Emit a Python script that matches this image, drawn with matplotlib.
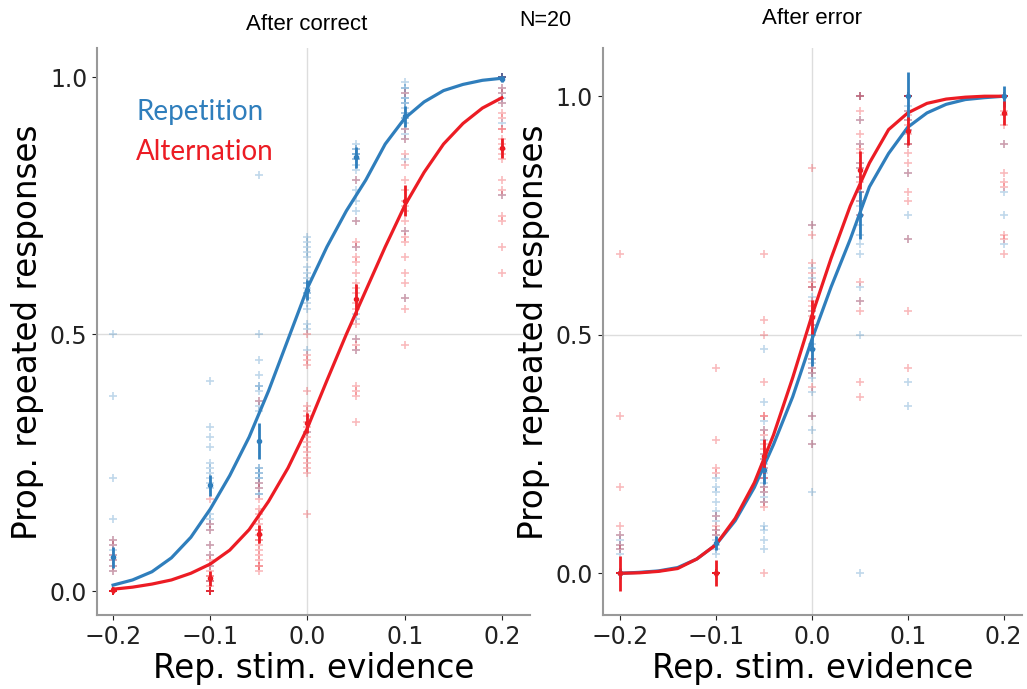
"""Psychometric curves after correct / after error trials, repetition vs alternation blocks."""

import matplotlib
matplotlib.use("Agg")
import matplotlib.pyplot as plt
import numpy as np

BLUE = "#2f7ebc"
RED = "#ec1c24"

evidence = [-0.2, -0.1, -0.05, 0.0, 0.05, 0.1, 0.2]
fit_x = [-0.2, -0.18, -0.16, -0.14, -0.12, -0.1, -0.08, -0.06, -0.04, -0.02, 0.0,
         0.02, 0.04, 0.06, 0.08, 0.1, 0.12, 0.14, 0.16, 0.18, 0.2]

# ---- after correct ----
ac_rep_fit = [0.012, 0.022, 0.038, 0.065, 0.105, 0.16, 0.225, 0.30, 0.39, 0.49, 0.59,
              0.67, 0.74, 0.80, 0.87, 0.92, 0.952, 0.974, 0.986, 0.994, 0.998]
ac_alt_fit = [0.004, 0.008, 0.014, 0.022, 0.035, 0.053, 0.08, 0.12, 0.175, 0.24, 0.318,
              0.41, 0.50, 0.585, 0.67, 0.75, 0.815, 0.87, 0.91, 0.94, 0.96]
ac_rep_mean = [0.066, 0.206, 0.292, 0.586, 0.844, 0.924, 0.996]
ac_rep_err = [0.02, 0.02, 0.035, 0.02, 0.02, 0.02, 0.006]
ac_alt_mean = [0.003, 0.025, 0.111, 0.327, 0.568, 0.76, 0.862]
ac_alt_err = [0.006, 0.015, 0.018, 0.02, 0.03, 0.03, 0.02]
ac_rep_subj = [
    [0.5, 0.38, 0.22, 0.14, 0.1, 0.09, 0.08, 0.07, 0.06, 0.05, 0.04, 0, 0, 0, 0, 0, 0, 0, 0, 0],
    [0.41, 0.32, 0.3, 0.28, 0.25, 0.24, 0.23, 0.22, 0.21, 0.2, 0.15, 0.14, 0.13, 0.12, 0.09, 0.07, 0.05, 0.02, 0, 0],
    [0.81, 0.5, 0.45, 0.42, 0.4, 0.4, 0.39, 0.37, 0.36, 0.35, 0.24, 0.24, 0.23, 0.23, 0.22, 0.22, 0.21, 0.2, 0.19, 0.19],
    [0.69, 0.68, 0.67, 0.66, 0.65, 0.63, 0.62, 0.61, 0.6, 0.6, 0.59, 0.58, 0.58, 0.57, 0.56, 0.55, 0.52, 0.51, 0.47, 0.31],
    [0.87, 0.86, 0.86, 0.85, 0.85, 0.85, 0.84, 0.84, 0.83, 0.82, 0.8, 0.78, 0.76, 0.74, 0.72, 0.67, 0.54, 0.53, 0.49, 0.47],
    [0.99, 0.98, 0.98, 0.97, 0.96, 0.96, 0.95, 0.95, 0.94, 0.93, 0.93, 0.92, 0.92, 0.91, 0.9, 0.89, 0.88, 0.84, 0.7, 0.57],
    [1, 1, 1, 1, 1, 1, 1, 1, 1, 1, 1, 1, 1, 1, 0.98, 0.97, 0.96, 0.95, 0.91, 0.77],
]
ac_alt_subj = [
    [0.1, 0.09, 0.07, 0.06, 0.05, 0.04, 0, 0, 0, 0, 0, 0, 0, 0, 0, 0, 0, 0, 0, 0],
    [0.18, 0.13, 0.12, 0.09, 0.07, 0.06, 0.05, 0.04, 0.03, 0.03, 0.02, 0.02, 0.01, 0, 0, 0, 0, 0, 0, 0],
    [0.37, 0.21, 0.2, 0.18, 0.16, 0.15, 0.14, 0.13, 0.12, 0.12, 0.11, 0.1, 0.1, 0.09, 0.08, 0.07, 0.06, 0.05, 0.05, 0.04],
    [0.5, 0.46, 0.45, 0.44, 0.39, 0.36, 0.35, 0.34, 0.33, 0.32, 0.31, 0.3, 0.29, 0.28, 0.27, 0.26, 0.25, 0.24, 0.23, 0.15],
    [0.8, 0.72, 0.68, 0.67, 0.65, 0.64, 0.62, 0.6, 0.59, 0.58, 0.56, 0.55, 0.52, 0.49, 0.48, 0.47, 0.4, 0.39, 0.38, 0.33],
    [0.97, 0.9, 0.88, 0.85, 0.83, 0.8, 0.78, 0.76, 0.75, 0.74, 0.72, 0.7, 0.69, 0.68, 0.65, 0.62, 0.6, 0.57, 0.55, 0.48],
    [1, 0.98, 0.97, 0.95, 0.93, 0.92, 0.9, 0.9, 0.88, 0.87, 0.86, 0.85, 0.84, 0.8, 0.78, 0.77, 0.73, 0.72, 0.67, 0.62],
]

# ---- after error ----
ae_rep_fit = [0.0, 0.002, 0.005, 0.012, 0.03, 0.06, 0.11, 0.18, 0.27, 0.37, 0.49,
              0.60, 0.70, 0.81, 0.88, 0.935, 0.965, 0.983, 0.993, 0.997, 1.0]
ae_alt_fit = [0.0, 0.001, 0.004, 0.01, 0.03, 0.06, 0.115, 0.19, 0.29, 0.41, 0.54,
              0.66, 0.77, 0.86, 0.93, 0.965, 0.985, 0.994, 0.998, 1.0, 1.0]
ae_rep_mean = [0.0, 0.063, 0.217, 0.47, 0.751, 1.0, 1.0]
ae_rep_err = [0.012, 0.015, 0.03, 0.035, 0.05, 0.05, 0.022]
ae_alt_mean = [0.0, 0.0, 0.246, 0.537, 0.846, 0.927, 0.965]
ae_alt_err = [0.037, 0.027, 0.035, 0.035, 0.04, 0.03, 0.025]
ae_rep_subj = [
    [0.08, 0.07, 0.06, 0.05, 0.04, 0, 0, 0, 0, 0, 0, 0, 0, 0, 0, 0, 0, 0, 0, 0],
    [0.2, 0.18, 0.17, 0.15, 0.13, 0.12, 0.11, 0.09, 0.08, 0.07, 0.06, 0.05, 0.04, 0, 0, 0, 0, 0, 0, 0],
    [0.47, 0.36, 0.32, 0.3, 0.28, 0.25, 0.24, 0.23, 0.22, 0.21, 0.2, 0.19, 0.18, 0.17, 0.16, 0.15, 0.1, 0.09, 0.07, 0.05],
    [0.73, 0.64, 0.62, 0.6, 0.58, 0.55, 0.52, 0.5, 0.48, 0.47, 0.45, 0.44, 0.43, 0.42, 0.41, 0.38, 0.33, 0.3, 0.27, 0.17],
    [1, 1, 0.95, 0.9, 0.86, 0.85, 0.83, 0.8, 0.8, 0.78, 0.77, 0.75, 0.73, 0.71, 0.69, 0.67, 0.6, 0.57, 0.5, 0],
    [1, 1, 1, 1, 1, 1, 1, 1, 1, 1, 1, 1, 0.98, 0.97, 0.95, 0.93, 0.9, 0.84, 0.75, 0.7, 0.4, 0.35],
    [1, 1, 1, 1, 1, 1, 1, 1, 1, 1, 1, 1, 1, 1, 1, 1, 0.9, 0.8, 0.75, 0.69],
]
ae_alt_subj = [
    [0.67, 0.33, 0.18, 0.1, 0.08, 0.06, 0.05, 0, 0, 0, 0, 0, 0, 0, 0, 0, 0, 0, 0, 0],
    [0.43, 0.28, 0.22, 0.21, 0.12, 0.1, 0.09, 0.08, 0, 0, 0, 0, 0, 0, 0, 0, 0, 0, 0, 0],
    [0.67, 0.53, 0.5, 0.4, 0.33, 0.33, 0.3, 0.29, 0.27, 0.26, 0.25, 0.24, 0.22, 0.2, 0.2, 0.18, 0.17, 0.15, 0.14, 0],
    [0.85, 0.73, 0.71, 0.65, 0.63, 0.61, 0.6, 0.6, 0.57, 0.56, 0.55, 0.54, 0.52, 0.5, 0.45, 0.43, 0.42, 0.39, 0.33, 0.27],
    [1, 1, 0.97, 0.95, 0.92, 0.9, 0.89, 0.88, 0.86, 0.85, 0.83, 0.82, 0.8, 0.78, 0.75, 0.61, 0.57, 0.55, 0.4, 0.37],
    [1, 1, 1, 1, 0.97, 0.96, 0.95, 0.94, 0.93, 0.92, 0.9, 0.9, 0.88, 0.86, 0.84, 0.8, 0.78, 0.7, 0.55, 0.43],
    [1, 1, 1, 1, 1, 1, 1, 1, 1, 1, 0.97, 0.96, 0.94, 0.9, 0.84, 0.82, 0.81, 0.71, 0.7, 0.67],
]


def draw_panel(ax, rep_fit, alt_fit, rep_mean, rep_err, alt_mean, alt_err, rep_subj, alt_subj):
    ax.axvline(0, color="#dddddd", lw=1, zorder=0)
    ax.axhline(0.5, color="#dddddd", lw=1, zorder=0)
    for subj, col in ((rep_subj, BLUE), (alt_subj, RED)):
        for x, vals in zip(evidence, subj):
            ax.plot(np.full(len(vals), x), vals, "+", color=col, alpha=0.3, ms=6, mew=1.2)
    ax.plot(fit_x, rep_fit, color=BLUE, lw=2.3)
    ax.plot(fit_x, alt_fit, color=RED, lw=2.3)
    ax.errorbar(evidence, rep_mean, yerr=rep_err, fmt="o", ms=3, color=BLUE, elinewidth=2, capsize=0)
    ax.errorbar(evidence, alt_mean, yerr=alt_err, fmt="o", ms=3, color=RED, elinewidth=2, capsize=0)
    for s in ("top", "right"):
        ax.spines[s].set_visible(False)
    for s in ("left", "bottom"):
        ax.spines[s].set_color("#999999")
        ax.spines[s].set_linewidth(1.5)
    ax.set_xticks([-0.2, -0.1, 0.0, 0.1, 0.2])
    ax.set_yticks([0.0, 0.5, 1.0])
    ax.tick_params(labelsize=17, colors="#222222")
    ax.set_xlabel("Rep. stim. evidence", fontsize=23.5, labelpad=2)
    ax.set_ylabel("Prop. repeated responses", fontsize=23.5)


fig = plt.figure(figsize=(10.27, 6.89), dpi=100)
ax1 = fig.add_axes([0.0945, 0.107, 0.4216, 0.823])
ax2 = fig.add_axes([0.587, 0.107, 0.408, 0.823])

draw_panel(ax1, ac_rep_fit, ac_alt_fit, ac_rep_mean, ac_rep_err, ac_alt_mean, ac_alt_err,
           ac_rep_subj, ac_alt_subj)
ax1.set_xlim(-0.2165, 0.229)
ax1.set_ylim(-0.0467, 1.0564)

draw_panel(ax2, ae_rep_fit, ae_alt_fit, ae_rep_mean, ae_rep_err, ae_alt_mean, ae_alt_err,
           ae_rep_subj, ae_alt_subj)
ax2.set_xlim(-0.218, 0.219)
ax2.set_ylim(-0.088, 1.1006)

ax1.text(0.09, 0.887, "Repetition", transform=ax1.transAxes, color=BLUE, fontsize=20,
         family=["Lato", "DejaVu Sans"], va="center")
ax1.text(0.09, 0.817, "Alternation", transform=ax1.transAxes, color=RED, fontsize=20,
         family=["Lato", "DejaVu Sans"], va="center")

narrow = ["Liberation Sans Narrow", "Liberation Sans", "DejaVu Sans"]
fig.text(307 / 1027, 1 - 25 / 689, "After correct", ha="center", va="center", fontsize=16, family=narrow)
fig.text(545 / 1027, 1 - 20 / 689, "N=20", ha="center", va="center", fontsize=15.5, family=narrow)
fig.text(812 / 1027, 1 - 18 / 689, "After error", ha="center", va="center", fontsize=16, family=narrow)

fig.savefig("out.png", dpi=100)
